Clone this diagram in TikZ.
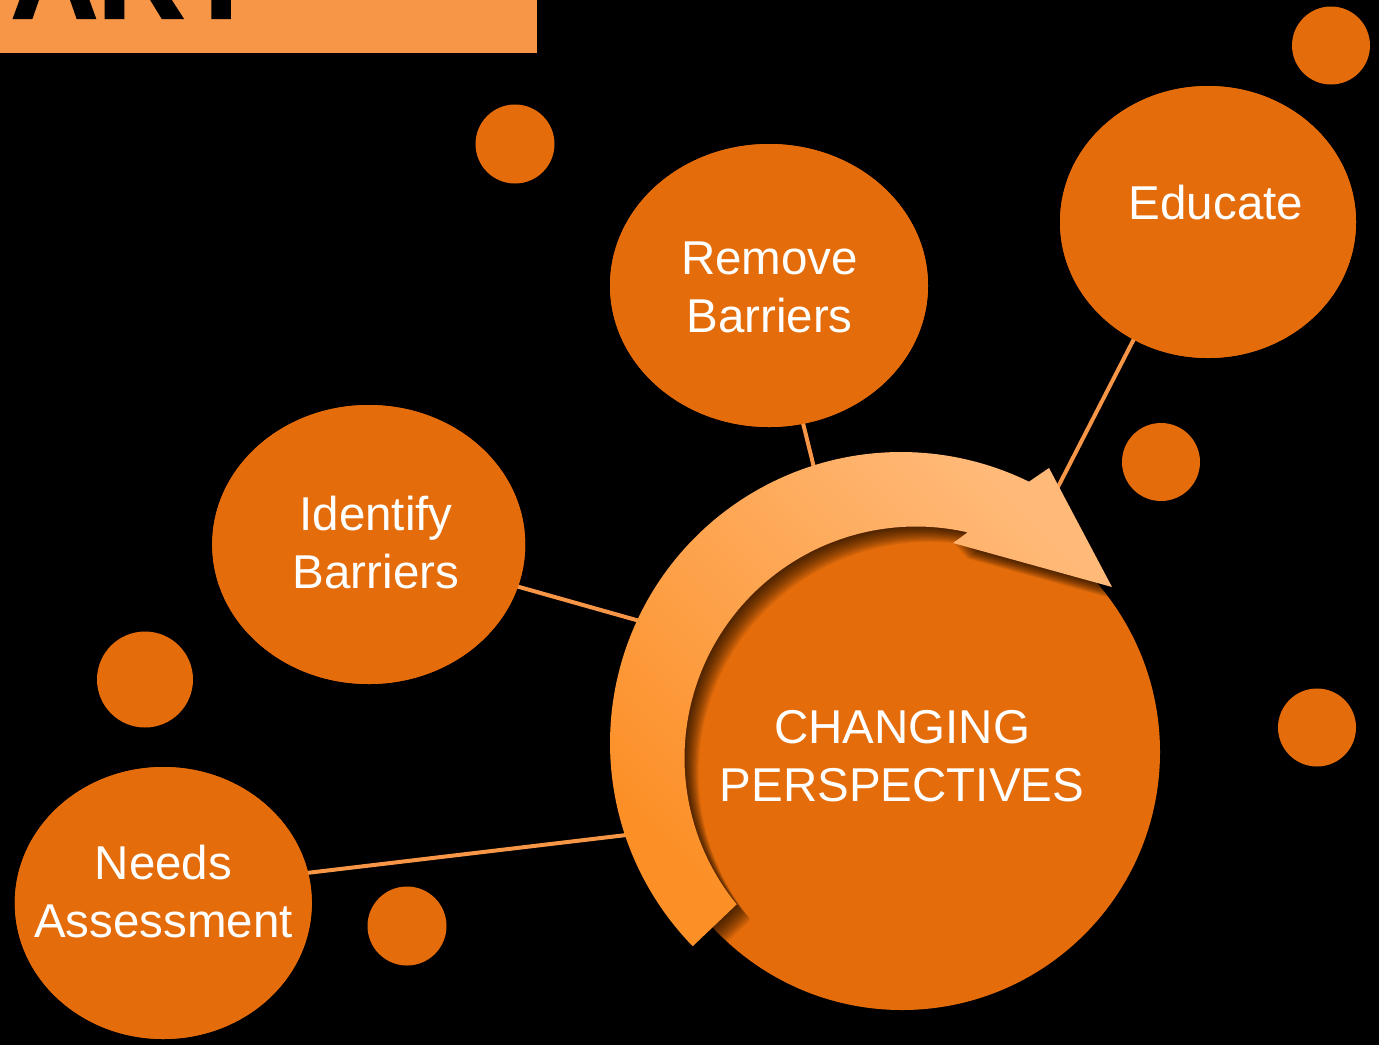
\documentclass[tikz,border=0pt]{standalone}
\usepackage{fontspec}
\setmainfont{Liberation Sans}
\newfontface\heavyfont{Liberation Sans Bold}[FakeBold=2]
\usetikzlibrary{shapes.geometric}
\definecolor{satc}{HTML}{E46C0A}
\definecolor{lite}{HTML}{F79646}
\definecolor{arrowdark}{HTML}{FC8F26}
\definecolor{arrowlight}{HTML}{FFB978}
\def\arrowpath{plot[samples=120,domain=0:1] ({901+291*cos(224.3-160.6*\x)},{743-291*sin(224.3-160.6*\x)}) -- (1049,468) -- (1112,587) -- (953,543) -- plot[samples=120,domain=0:1] ({916+231.5*cos(77.1+142.3*\x)},{758-231.5*sin(77.1+142.3*\x)}) -- cycle}
\begin{document}
\begin{tikzpicture}[x=1pt,y=-1pt,
  satellite/.style={ellipse, fill=satc, draw=none, inner sep=0pt},
  dot/.style={circle, fill=satc, draw=none, inner sep=0pt},
  link/.style={draw=lite, line width=4pt},
  caption/.style={text=white, font=\fontsize{47.5}{58}\selectfont, align=center, inner sep=0pt},
]
\fill[black] (0,0) rectangle (1379,1045);
\useasboundingbox (0,0) rectangle (1379,1045);

% title bar (cut off at the top edge)
\fill[lite] (0,0) rectangle (537,53);
\node[anchor=base east, inner sep=0pt, text=black, font=\heavyfont\fontsize{120}{120}\selectfont] (title) at (258,18) {ART};

% satellites
\node[satellite, minimum width=318pt, minimum height=283pt] (remove) at (769,285.5) {};
\node[satellite, minimum width=296pt, minimum height=272pt] (educ) at (1208,222) {};
\node[satellite, minimum width=313pt, minimum height=279pt] (ident) at (368.7,544.5) {};
\node[satellite, minimum width=297pt, minimum height=272pt] (needs) at (163.3,903) {};

% core circle
\node[circle, fill=satc, draw=none, inner sep=0pt, minimum size=516pt] (core) at (902,752) {};

% connector ends (hidden under the arrow)
\coordinate (tRemove) at (822,500);
\coordinate (tEduc) at (1041,520);
\coordinate (tIdent) at (700,638);
\coordinate (tNeeds) at (660,831);

% small dots
\node[dot, minimum size=79pt] (d1) at (515,144) {};
\node[dot, minimum size=78pt] (d2) at (1331,45.5) {};
\node[dot, minimum size=78pt] (d3) at (1161,462) {};
\node[dot, minimum size=78pt] (d4) at (1317,727.5) {};
\node[dot, minimum size=96pt] (d5) at (145,679.5) {};
\node[dot, minimum size=79pt] (d6) at (407,926) {};

% connectors, then satellites repainted on top
\draw[link] (remove.center) -- (tRemove);
\draw[link] ([xshift=-14pt]educ.center) -- (tEduc);
\draw[link] (ident.center) -- (tIdent);
\draw[link] ([yshift=13pt]needs.center) -- (tNeeds);
\fill[satc] (769,285.5) ellipse [x radius=159, y radius=141.5];
\fill[satc] (1208,222) ellipse [x radius=148, y radius=136];
\fill[satc] (368.7,544.5) ellipse [x radius=156.5, y radius=139.5];
\fill[satc] (163.3,903) ellipse [x radius=148.5, y radius=136];

% shadow of the arrow on the core
\begin{scope}
  \clip (902,752) circle [radius=258];
  \foreach \s in {1,...,14} {
    \fill[black, opacity=0.065, shift={(\s*1.0,\s*1.1)}] \arrowpath;
  }
\end{scope}

% circular arrow
\shade[top color=arrowlight, bottom color=arrowdark, shading angle=-45] \arrowpath;

% texts
\node[caption] (lRemove) at (769.5,287.2) {Remove\\Barriers};
\node[caption] (lIdent) at (376,542.5) {Identify\\Barriers};
\node[caption] (lNeeds) at (163.5,891.9) {Needs\\Assessment};
\node[caption] (lEduc) at (1216,203) {Educate};
\node[caption] (lCore) at (902,756) {CHANGING\\PERSPECTIVES};
\end{tikzpicture}
\end{document}
